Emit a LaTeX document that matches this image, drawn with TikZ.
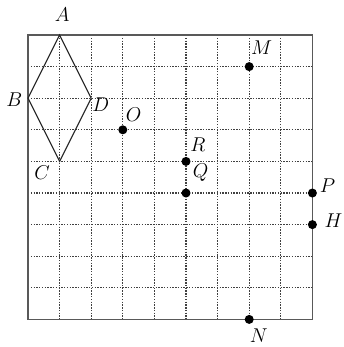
\documentclass[tikz,border=0pt]{standalone}
\begin{document}
\begin{tikzpicture}[x=0.8cm,y=-0.8cm,
  gridline/.style={draw=black!75,line width=0.75pt,dash pattern=on 1pt off 1pt},
  frame/.style={draw=black!65,line width=0.9pt},
  shapeline/.style={draw=black!85,line width=0.8pt},
  pt/.style={circle,fill=black,inner sep=0pt,minimum size=6.5pt},
  lab/.style={font=\fontsize{14.5}{16}\selectfont,inner sep=0pt}]
\useasboundingbox (-0.886,-1.108) rectangle (10.0,9.873);
\fill[white] (-0.886,-1.108) rectangle (10.0,9.873);
% grid
\foreach \i in {1,...,8} {
  \draw[gridline] (\i,0) -- (\i,9);
  \draw[gridline] (0,\i) -- (9,\i);
}
\draw[frame] (0,0) rectangle (9,9);
% rhombus
\coordinate (A) at (1,0);
\coordinate (B) at (0,2);
\coordinate (C) at (1,4);
\coordinate (D) at (2,2);
\draw[shapeline] (A) -- (B) -- (C) -- (D) -- cycle;
% points
\node[pt] (O) at (3,3) {};
\node[pt] (M) at (7,1) {};
\node[pt] (R) at (5,4) {};
\node[pt] (Q) at (5,5) {};
\node[pt] (P) at (9,5) {};
\node[pt] (H) at (9,6) {};
\node[pt] (N) at (7,9) {};
% labels
\node[lab] (lA) at (1.08,-0.63) {$A$};
\node[lab] (lB) at (-0.43,2.06) {$B$};
\node[lab] (lC) at (0.45,4.36) {$C$};
\node[lab] (lD) at (2.3,2.2) {$D$};
\node[lab] (lO) at (3.34,2.53) {$O$};
\node[lab] (lM) at (7.39,0.41) {$M$};
\node[lab] (lR) at (5.38,3.48) {$R$};
\node[lab] (lQ) at (5.46,4.34) {$Q$};
\node[lab] (lP) at (9.48,4.78) {$P$};
\node[lab] (lH) at (9.67,5.89) {$H$};
\node[lab] (lN) at (7.3,9.53) {$N$};
\end{tikzpicture}
\end{document}
